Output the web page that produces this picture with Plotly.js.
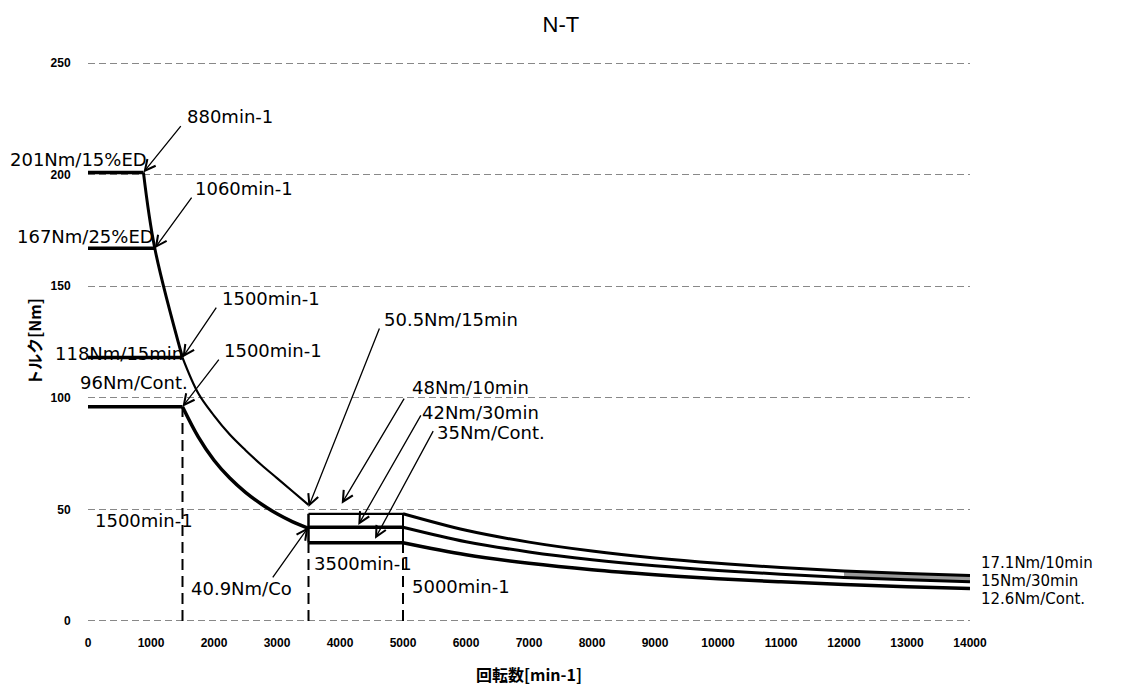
<!DOCTYPE html>
<html>
<head>
<meta charset="utf-8">
<script src="https://cdn.plot.ly/plotly-3.0.1.min.js"></script>
<style>html,body{margin:0;padding:0;background:#fff;}#chart{width:1133px;height:686px;}</style>
</head>
<body>
<div id="chart"></div>
<script>
// ---- data (speed in min-1, torque in Nm) ----
const spd201 = [0, 880];     const tq201 = [201, 201];
const spd167 = [0, 1060];    const tq167 = [167, 167];
const spd118 = [0, 1500];    const tq118 = [118, 118];
const spd96  = [0, 1500];    const tq96  = [96, 96];

const spdUpA = [880, 1060, 1500];  const tqUpA = [201, 167, 118];
const spdUpB = [1500, 1750, 2000, 2250, 2500, 2750, 3000, 3250, 3500];
const tqUpB  = [118, 102, 92, 83.5, 76.5, 70, 64, 58, 52];
const spdLow = [1500, 1750, 2000, 2250, 2500, 2750, 3000, 3250, 3500];
const tqLow  = [96, 82.5, 72, 64, 57.6, 52.4, 48, 44.4, 41.5];

const spdBox = [3500, 5000];
const tqBox10 = [48, 48];
const tqBox30 = [42, 42];
const tqBoxC  = [35, 35];
const spdBoxL = [3500, 3500]; const tqBoxL = [35, 48];
const spdBoxR = [5000, 5000]; const tqBoxR = [35, 48];

const spdR = [5000, 6000, 7000, 8000, 9000, 10000, 11000, 12000, 13000, 14000];
const tqR10 = [48, 40.6, 35.3, 31.3, 28.2, 25.8, 23.9, 22.4, 21.2, 20.3];
const tqR30 = [42, 35.5, 30.9, 27.4, 24.7, 22.6, 20.9, 19.5, 18.4, 17.5];
const tqRC  = [35, 29.6, 25.8, 22.9, 20.7, 18.9, 17.5, 16.3, 15.3, 14.5];

const spdV1500 = [1500, 1500]; const tqV1500 = [0, 96];
const spdV3500 = [3500, 3500]; const tqV3500 = [0, 35];
const spdV5000 = [5000, 5000]; const tqV5000 = [0, 35];

const xTicks = [0,1000,2000,3000,4000,5000,6000,7000,8000,9000,10000,11000,12000,13000,14000];
const yTicks = [0,50,100,150,200,250];

// ---- traces ----
function ln(x, y, w, extra) {
  return Object.assign({x: x, y: y, type: 'scatter', mode: 'lines',
    line: {color: '#000', width: w}, hoverinfo: 'skip', showlegend: false}, extra || {});
}
const traces = [
  ln(spd201, tq201, 3.5),
  ln(spd167, tq167, 3.5),
  ln(spd118, tq118, 3.5),
  ln(spd96, tq96, 3.5),
  ln(spdUpA, tqUpA, 3, {line: {color: '#000', width: 3, shape: 'spline'}}),
  ln(spdUpB, tqUpB, 2.2, {line: {color: '#000', width: 2.2, shape: 'spline'}}),
  ln(spdLow, tqLow, 3.5, {line: {color: '#000', width: 3.5, shape: 'spline'}}),
  ln(spdBox, tqBox10, 2.2),
  ln(spdBox, tqBox30, 3.5),
  ln(spdBox, tqBoxC, 3.5),
  ln(spdBoxL, tqBoxL, 2.5),
  ln(spdBoxR, tqBoxR, 2),
  ln(spdR.slice(7), tqR30.slice(7), 0),
  ln(spdR.slice(7), tqR10.slice(7), 0, {fill: 'tonexty', fillcolor: '#9a9a9a'}),
  ln(spdR, tqR10, 3, {line: {color: '#000', width: 3, shape: 'spline'}}),
  ln(spdR, tqR30, 3, {line: {color: '#000', width: 3, shape: 'spline'}}),
  ln(spdR, tqRC, 3.5, {line: {color: '#000', width: 3.5, shape: 'spline'}}),
  ln(spdV1500, tqV1500, 2, {line: {color: '#000', width: 2, dash: '11px,6px'}}),
  ln(spdV3500, tqV3500, 2, {line: {color: '#000', width: 2, dash: '11px,6px'}}),
  ln(spdV5000, tqV5000, 2, {line: {color: '#000', width: 2, dash: '11px,6px'}})
];

// ---- annotations ----
const AF = {family: 'DejaVu Sans', size: 18, color: '#000'};
function txt(x, y, t, xr, extra) {
  return Object.assign({x: x, y: y, xref: xr || 'x', yref: 'y', text: t, showarrow: false,
    xanchor: 'left', yanchor: 'middle', font: AF}, extra || {});
}
function arr(x, y, ax, ay) {
  return {x: x, y: y, ax: ax, ay: ay, xref: 'x', yref: 'y', axref: 'x', ayref: 'y',
    text: '', showarrow: true, arrowhead: 5, arrowsize: 1.6, arrowwidth: 1.3, arrowcolor: '#000'};
}
const RF = {font: {family: 'DejaVu Sans', size: 15, color: '#000'}, borderpad: 0};
const annotations = [
  txt(1540, 226, '880min-1'),
  txt(-0.0907, 207, '201Nm/15%ED', 'paper'),
  txt(1667, 194, '1060min-1'),
  txt(-0.0828, 172.5, '167Nm/25%ED', 'paper'),
  txt(2095, 144.4, '1500min-1'),
  txt(-0.0393, 119.7, '118Nm/15min', 'paper'),
  txt(2122, 121, '1500min-1'),
  txt(-0.011, 106.7, '96Nm/Cont.', 'paper'),
  txt(4662, 135.1, '50.5Nm/15min'),
  txt(5111, 104.8, '48Nm/10min'),
  txt(5270, 93.6, '42Nm/30min'),
  txt(5508, 84.6, '35Nm/Cont.'),
  txt(75, 45, '1500min-1'),
  txt(1608, 14.3, '40.9Nm/Co'),
  txt(3560, 25.6, '3500min-1'),
  txt(5111, 15.6, '5000min-1'),
  txt(1.0113, 25.9, '17.1Nm/10min', 'paper', RF),
  txt(1.0113, 17.8, '15Nm/30min', 'paper', RF),
  txt(1.0113, 9.7, '12.6Nm/Cont.', 'paper', RF),
  arr(880, 201, 1492, 222.4),
  arr(1060, 167, 1662, 190.4),
  arr(1500, 118, 2052, 141.1),
  arr(1500, 96, 2095, 117.8),
  arr(3500, 51, 4635, 131.7),
  arr(4027, 52.5, 5032, 100.3),
  arr(4290, 43, 5297, 92.8),
  arr(4556, 36.8, 5492, 85.7),
  arr(3497, 42, 2916, 18.8)
];

const layout = {
  width: 1133, height: 686,
  paper_bgcolor: '#fff', plot_bgcolor: '#fff',
  margin: {l: 88, r: 163, t: 62, b: 64},
  title: {text: 'N-T', x: 0.495, xref: 'container', y: 0.965, yref: 'container', yanchor: 'middle',
    font: {family: 'Liberation Sans', size: 22, color: '#000'}},
  xaxis: {
    range: [0, 14000], tickvals: xTicks, ticktext: xTicks.map(String),
    showgrid: false, zeroline: false, showline: false,
    ticks: 'outside', ticklen: 10, tickcolor: 'rgba(0,0,0,0)',
    tickfont: {family: 'Liberation Sans', size: 12, color: '#000', weight: 'bold'},
    title: {text: '回転数[min-1]', standoff: 22,
      font: {family: 'Noto Sans CJK JP', size: 16, color: '#000', weight: 'bold'}}
  },
  yaxis: {
    range: [-0.5, 250.5], tickvals: yTicks, ticktext: yTicks.map(String),
    showgrid: true, gridcolor: '#888', gridwidth: 1, griddash: '7px,4px',
    zeroline: false, showline: false,
    ticks: 'outside', ticklen: 14, tickcolor: 'rgba(0,0,0,0)',
    tickfont: {family: 'Liberation Sans', size: 12, color: '#000', weight: 'bold'},
    title: {text: 'トルク[Nm]', standoff: 4,
      font: {family: 'Noto Sans CJK JP', size: 16, color: '#000', weight: 'bold'}}
  },
  annotations: annotations,
  showlegend: false
};

Plotly.newPlot('chart', traces, layout, {displayModeBar: false, staticPlot: true});
</script>
</body>
</html>
